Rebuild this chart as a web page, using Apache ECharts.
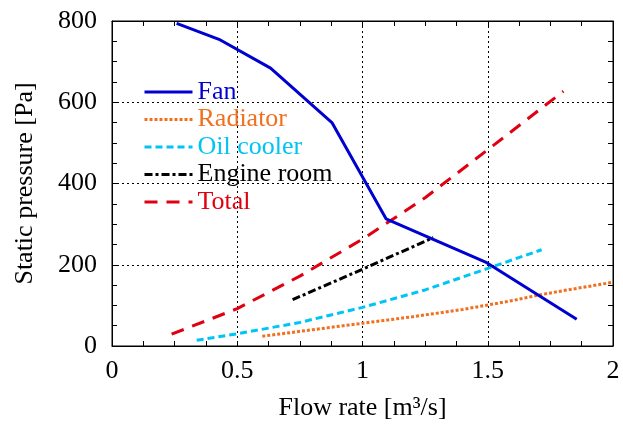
<!DOCTYPE html>
<html><head><meta charset="utf-8">
<script src="https://cdn.jsdelivr.net/npm/echarts@6/dist/echarts.min.js"></script>
<style>html,body{margin:0;padding:0;background:#fff}#c{width:623px;height:426px}</style>
</head><body><div id="c"></div>
<script>
const fanX = [0.258, 0.427, 0.633, 0.879, 1.094, 1.496, 1.855];
const fanY = [794, 755, 684, 549, 313, 205, 66];
const radX = [0.6, 0.8, 1.0, 1.2, 1.4, 1.5, 1.6, 1.7, 1.8, 2.0];
const radY = [24, 40, 56, 72, 90, 101, 112, 125, 136, 157];
const oilX = [0.338, 0.5, 0.75, 1.0, 1.25, 1.5, 1.715];
const oilY = [14, 30, 58, 95, 138, 191, 237];
const engX = [0.721, 1.0, 1.283];
const engY = [114, 189, 267];
const totX = [0.238, 0.5, 0.75, 1.0, 1.25, 1.5, 1.802];
const totY = [29, 92, 172, 263, 365, 483, 627];
const names = ['Fan', 'Radiator', 'Oil cooler', 'Engine room', 'Total'];
const colors = ['#0000d0', '#f07020', '#00c4f4', '#000000', '#e00010'];

const font = 'Liberation Serif, Times New Roman, serif';
const FS = 26;
const pairs = (xs, ys) => xs.map((x, i) => [x, ys[i]]);
const dashes = ['solid', [3, 2], [7, 4], [8, 3, 3, 3], [13, 9]];
const data = [pairs(fanX, fanY), pairs(radX, radY), pairs(oilX, oilY), pairs(engX, engY), pairs(totX, totY)];

function axis(extra) {
  return Object.assign({
    type: 'value',
    axisLine: {show: true, onZero: false, lineStyle: {color: '#000', width: 1}},
    axisTick: {show: true, inside: true, length: 5, lineStyle: {color: '#000', width: 1}},
    minorTick: {show: true, splitNumber: 4, length: 5, lineStyle: {color: '#000', width: 1}},
  }, extra);
}
const grid = {color: '#000', type: [2, 3], width: 1};
const chart = echarts.init(document.getElementById('c'));
const series = names.map((n, i) => ({
  name: n, type: 'line', data: data[i], symbol: 'none', showSymbol: false, xAxisIndex: 0, yAxisIndex: 0,
  lineStyle: {color: colors[i], width: 3, type: dashes[i]},
  itemStyle: {color: colors[i]}, z: i === 0 ? 5 : 3
}));
series.push({type: 'line', data: [], xAxisIndex: 1, yAxisIndex: 1, symbol: 'none'});
chart.setOption({
  animation: false,
  grid: {left: 112, right: 10, top: 21, bottom: 79, show: true, borderColor: '#000', borderWidth: 1},
  legend: {
    orient: 'vertical', left: 138, top: 74, itemGap: 1.5, itemWidth: 48, itemHeight: 14,
    itemStyle: {opacity: 0},
    lineStyle: {width: 3},
    data: names.map((n, i) => ({name: n, textStyle: {color: colors[i], fontSize: FS, fontFamily: font}})),
    textStyle: {fontFamily: font, fontSize: FS}
  },
  xAxis: [
    axis({
      min: 0, max: 2, interval: 0.5, position: 'bottom',
      name: 'Flow rate [m³/s]', nameLocation: 'middle', nameGap: 49,
      nameTextStyle: {fontFamily: font, fontSize: FS, color: '#000'},
      axisLabel: {fontFamily: font, fontSize: FS, color: '#000', margin: 12, formatter: v => String(v)},
      splitLine: {show: true, lineStyle: grid}
    }),
    axis({min: 0, max: 2, interval: 0.5, position: 'top', axisLabel: {show: false}, splitLine: {show: false}})
  ],
  yAxis: [
    axis({
      min: 0, max: 800, interval: 200, position: 'left',
      name: 'Static pressure [Pa]', nameLocation: 'middle', nameGap: 74, nameRotate: 90,
      nameTextStyle: {fontFamily: font, fontSize: FS, color: '#000'},
      axisLabel: {fontFamily: font, fontSize: FS, color: '#000', margin: 15},
      splitLine: {show: true, lineStyle: grid}
    }),
    axis({min: 0, max: 800, interval: 200, position: 'right', axisLabel: {show: false}, splitLine: {show: false}})
  ],
  series: series
});
</script></body></html>
